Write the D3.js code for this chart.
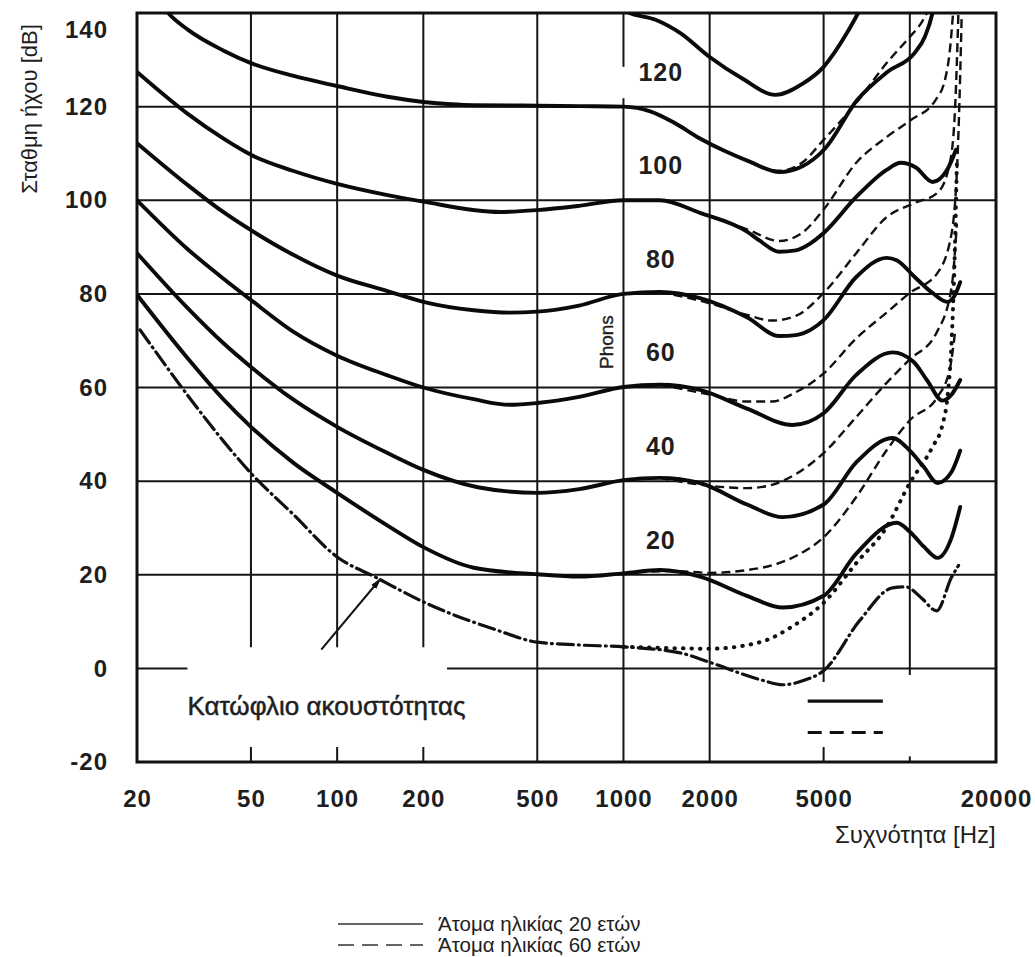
<!DOCTYPE html>
<html><head><meta charset="utf-8">
<script src="https://cdn.jsdelivr.net/npm/d3@7"></script>
<style>
body{margin:0;background:#fff}
svg{display:block}
text{font-family:"Liberation Sans",Arial,Helvetica,sans-serif;fill:#1e1e1e}
</style>
</head><body>
<svg id="c" width="1035" height="957"></svg>
<script>
// ---------- data ----------
const xTicks = [20, 50, 100, 200, 500, 1000, 2000, 5000, 20000];
const yTicks = [-20, 0, 20, 40, 60, 80, 100, 120, 140];
const phonLabels = ["20", "40", "60", "80", "100", "120"];
const phonLevels = [20, 40, 60, 80, 100, 120];

// solid curves: people aged 20 (frequency Hz, level dB)
const phon140 = [[1000,140.6],[1050,140],[1300,138.5],[1580,135.7],[2000,130.6],[2600,126],[3400,122.5],[4200,124.8],[5000,128.5],[6000,135.5],[6600,140],[7000,143]];
const phon120 = [[22,146],[25.7,140],[30,136.5],[40,132],[50,129.3],[70,126.6],[100,124.4],[150,122.1],[200,121],[250,120.5],[300,120.3],[500,120.2],[700,120.1],[1000,120],[1240,119],[1510,116.5],[1850,113.2],[2260,110.5],[2770,108.2],[3500,106],[4200,107.2],[5050,111],[6550,121.4],[8350,127.4],[10400,131.5],[11300,135],[12000,140],[12500,146]];
const phon100 = [[20,127.4],[30,118.5],[40,113.2],[50,109.7],[70,106.3],[100,103.5],[150,101.1],[200,99.7],[370,97.5],[500,97.9],[700,98.8],[1000,100],[1340,100],[1850,97.3],[2700,93.3],[3000,91.3],[3500,89],[4000,89.3],[4500,90.8],[5000,93],[6500,100.7],[8300,106.5],[9300,108],[10500,107],[12000,103.9],[13500,106.5],[14500,110.8]];
const phon80 = [[20,112.2],[30,103.3],[40,97.5],[50,93.6],[70,88.4],[100,83.9],[150,80.6],[200,78.3],[300,76.5],[400,76],[500,76.2],[700,77.5],[1000,80],[1340,80.4],[1850,79.1],[2700,75],[3500,71],[4000,71.2],[4500,72.3],[5000,74.4],[6500,83.6],[8300,87.7],[9000,87.2],[10400,83.6],[12000,80.2],[13500,78.3],[14300,79.5],[15000,82.5]];
const phon60 = [[20,100],[30,89.6],[40,83.3],[50,78.7],[70,72],[100,66.8],[150,62.6],[200,60],[300,57.5],[400,56.3],[500,56.7],[700,58],[1000,60.1],[1340,60.6],[1850,59.5],[2700,55.5],[3900,52],[5000,54.5],[6500,62.7],[8700,67.5],[10300,65.5],[11500,61.5],[13000,57.2],[14000,58.5],[15000,61.6]];
const phon40 = [[20,88.7],[30,77],[40,69.5],[50,64.4],[70,57.5],[100,51.6],[150,46],[200,42.4],[310,38.7],[500,37.5],[700,38.3],[1000,40.2],[1340,40.7],[1850,39.6],[2700,35],[3600,32.3],[5000,35],[6500,44],[8700,49.2],[10000,46.5],[11200,43],[12500,39.6],[14000,42],[15000,46.5]];
const phon20 = [[20,79.8],[30,66.3],[40,57.5],[50,51.6],[70,44],[100,37.5],[150,30.5],[200,25.9],[300,21.5],[500,20.1],[700,19.6],[1000,20.3],[1340,21],[1850,19.6],[2700,15.5],[3600,13],[5000,15.5],[6500,24.5],[9000,31.1],[10000,29.2],[11200,26],[12500,23.6],[14000,28],[15000,34.5]];
// hearing threshold (dash-dot) aged 20, and dotted for aged 60
const threshold20 = [[20.5,72.3],[30,58.4],[40,48.6],[50,41.7],[70,33],[100,23.8],[137,19.4],[200,14.2],[360,8.2],[500,5.6],[700,5],[1000,4.6],[1580,3.3],[2000,1.3],[3000,-2.4],[3600,-3.5],[4300,-2.5],[5000,-0.5],[6700,10.3],[8700,17.2],[9700,17.4],[11000,15],[12400,12.3],[14000,19.5],[14800,22]];
const threshold60 = [[1000,4.6],[1340,4.4],[2000,4.2],[3000,5.6],[3900,9],[5000,14],[6500,22.5],[8300,30.2],[10000,39.6],[12000,47.3],[13000,52],[13500,57.3],[14000,70],[14300,85],[14600,108]];
// dashed curves: people aged 60
const old120 = [[2700,108.6],[3500,106.3],[4200,108],[5000,112.9],[6500,120.8],[8300,129.3],[10000,134.9],[11000,138],[11700,141]];
const old100 = [[1850,97.3],[2700,93.8],[3500,91.3],[4200,93],[5000,98],[6500,108],[8300,113.5],[10000,117],[12300,121.4],[13300,126],[13800,132],[14200,141]];
const old80 = [[1340,80.4],[2000,78],[2700,75.5],[3300,74.3],[4000,75.3],[5000,80.2],[6500,88.7],[8300,96.4],[10400,99.4],[12500,101.6],[13800,108],[14400,120],[14800,141]];
const old60 = [[1340,60.6],[2000,58.5],[2700,57],[3300,57],[4000,59],[5000,63],[6500,70.5],[8300,76],[10000,80.2],[12500,84.5],[14000,93],[14800,115],[15200,141]];
const old40 = [[1340,40.7],[2000,39],[2700,38.5],[3300,39.2],[4000,41.5],[5000,46],[6500,53.7],[8300,61],[10000,66],[12400,71.7],[14000,81.5],[14600,95]];
const old20 = [[1000,20.3],[1500,20.8],[2000,20.4],[2700,21],[3300,22],[4000,24],[5000,28],[6500,36.6],[8300,46.6],[10000,53],[12500,58],[13800,64],[14400,72]];

// grid segments (value ranges along the line)
const vGrid = [
  {f:50, segs:[[-20,-16.8],[4.5,140]]},
  {f:100, segs:[[-20,-16.8],[4.5,140]]},
  {f:200, segs:[[-20,-16.8],[4.5,140]]},
  {f:500, segs:[[-20,140]]},
  {f:1000, segs:[[-20,121.8],[128.5,140]]},
  {f:2000, segs:[[-20,140]]},
  {f:5000, segs:[[-20,-16.8],[-2.9,140]]},
  {f:10000, segs:[[-20,-18.8],[-1.4,140]]}
];
const hGrid = [
  {db:0, segs:[[20,30],[242,20000]]},
  {db:20, segs:[[20,20000]]},
  {db:40, segs:[[20,20000]]},
  {db:60, segs:[[20,20000]]},
  {db:80, segs:[[20,20000]]},
  {db:100, segs:[[20,20000]]},
  {db:120, segs:[[20,20000]]}
];
const arrowFrom = [88, 4];
const arrowTo = [142, 19.2];
const innerLegend = {f0:4400, f1:8050, solidDb:-7, dashDb:-13.7};

// ---------- drawing ----------
const svg = d3.select("#c");
const x = d3.scaleLog().domain([20, 20000]).range([137, 996]);
const y = d3.scaleLinear().domain([-20, 140]).range([762, 13]);

const defs = svg.append("defs");
defs.append("clipPath").attr("id", "plot").append("rect")
  .attr("x", x.range()[0]).attr("y", y.range()[1])
  .attr("width", x.range()[1] - x.range()[0]).attr("height", y.range()[0] - y.range()[1]);
defs.append("marker").attr("id", "arr").attr("viewBox", "0 0 12 8")
  .attr("refX", 11).attr("refY", 4).attr("markerWidth", 12).attr("markerHeight", 8)
  .attr("markerUnits", "userSpaceOnUse").attr("orient", "auto")
  .append("path").attr("d", "M0,0.8 L12,4 L0,7.2 Z").attr("fill", "#111");

const grid = svg.append("g").attr("stroke", "#151515").attr("stroke-width", 2);
vGrid.forEach(g => g.segs.forEach(s => {
  grid.append("line").attr("x1", x(g.f)).attr("x2", x(g.f)).attr("y1", y(s[0])).attr("y2", y(s[1]));
}));
hGrid.forEach(g => g.segs.forEach(s => {
  grid.append("line").attr("x1", x(s[0])).attr("x2", x(s[1])).attr("y1", y(g.db)).attr("y2", y(g.db));
}));
svg.append("rect").attr("x", x.range()[0]).attr("y", y.range()[1])
  .attr("width", x.range()[1] - x.range()[0]).attr("height", y.range()[0] - y.range()[1])
  .attr("fill", "none").attr("stroke", "#111").attr("stroke-width", 3);

const line = d3.line().x(d => x(d[0])).y(d => y(d[1])).curve(d3.curveMonotoneX);
const curves = svg.append("g").attr("clip-path", "url(#plot)").attr("fill", "none")
  .attr("stroke-linecap", "round").attr("stroke-linejoin", "round");

[old120, old100, old80, old60, old40, old20].forEach(c => {
  curves.append("path").attr("d", line(c)).attr("stroke", "#111")
    .attr("stroke-width", 2.4).attr("stroke-dasharray", "9,5").attr("stroke-linecap", "butt");
});
curves.append("path").attr("d", line(threshold60)).attr("stroke", "#111")
  .attr("stroke-width", 4).attr("stroke-dasharray", "0.5,8");
curves.append("path").attr("d", line(threshold20)).attr("stroke", "#111")
  .attr("stroke-width", 3.2).attr("stroke-dasharray", "16,5,1,5").attr("stroke-linecap", "round");
[phon140, phon120, phon100, phon80, phon60, phon40, phon20].forEach(c => {
  curves.append("path").attr("d", line(c)).attr("stroke", "#0a0a0a").attr("stroke-width", 3.9);
});

// arrow
svg.append("line").attr("x1", x(arrowFrom[0])).attr("y1", y(arrowFrom[1]))
  .attr("x2", x(arrowTo[0])).attr("y2", y(arrowTo[1]))
  .attr("stroke", "#111").attr("stroke-width", 2).attr("marker-end", "url(#arr)");

// inner legend samples
svg.append("line").attr("x1", x(innerLegend.f0)).attr("x2", x(innerLegend.f1))
  .attr("y1", y(innerLegend.solidDb)).attr("y2", y(innerLegend.solidDb))
  .attr("stroke", "#111").attr("stroke-width", 3.2);
svg.append("line").attr("x1", x(innerLegend.f0)).attr("x2", x(innerLegend.f1))
  .attr("y1", y(innerLegend.dashDb)).attr("y2", y(innerLegend.dashDb))
  .attr("stroke", "#111").attr("stroke-width", 3).attr("stroke-dasharray", "14,8");

// axes
const yAxis = svg.append("g").attr("transform", `translate(${x.range()[0]},0)`)
  .call(d3.axisLeft(y).tickValues(yTicks).tickFormat(d => String(d)).tickSize(0).tickPadding(29));
const xAxis = svg.append("g").attr("transform", `translate(0,${y.range()[0]})`)
  .call(d3.axisBottom(x).tickValues(xTicks).tickFormat(d => String(d)).tickSize(0).tickPadding(28));
[yAxis, xAxis].forEach(a => {
  a.select(".domain").remove();
  a.selectAll("text").attr("font-family", null).attr("font-size", 24)
    .attr("font-weight", "bold").attr("fill", "#1e1e1e").attr("letter-spacing", 1);
});
yAxis.selectAll(".tick text").filter(d => d === 140).attr("dy", "1.03em");

// axis titles
svg.append("text").attr("transform", "translate(37,109) rotate(-90)")
  .attr("text-anchor", "middle").attr("font-size", 22).text("Σταθμη ήχου [dB]");
svg.append("text").attr("x", 835).attr("y", 843).attr("font-size", 24).text("Συχνότητα [Hz]");

// phon labels
svg.append("g").selectAll("text").data(phonLevels).join("text")
  .attr("x", x(1350)).attr("y", d => y(d + 7.5)).attr("dy", "0.36em")
  .attr("text-anchor", "middle").attr("font-size", 25).attr("font-weight", "bold")
  .attr("letter-spacing", 1)
  .text((d, i) => phonLabels[i]);
svg.append("text").attr("transform", `translate(${x(1000) - 10},${y(69.7)}) rotate(-90)`)
  .attr("text-anchor", "middle").attr("font-size", 19)
  .attr("stroke", "#1e1e1e").attr("stroke-width", 0.4).text("Phons");

// threshold label
svg.append("text").attr("x", x(30)).attr("y", y(-8)).attr("dy", "0.36em")
  .attr("font-size", 26).attr("stroke", "#1e1e1e").attr("stroke-width", 0.5)
  .text("Κατώφλιο ακουστότητας");

// bottom legend
const leg = [{t:"Άτομα ηλικίας 20 ετών", dash:null, yy:924}, {t:"Άτομα ηλικίας 60 ετών", dash:"16,8", yy:945}];
leg.forEach(l => {
  svg.append("line").attr("x1", 338).attr("x2", 423).attr("y1", l.yy).attr("y2", l.yy)
    .attr("stroke", "#333").attr("stroke-width", 1.3).attr("stroke-dasharray", l.dash);
  svg.append("text").attr("x", 438).attr("y", l.yy + 7).attr("font-size", 20.5).attr("fill", "#333").text(l.t);
});
</script>
</body></html>
